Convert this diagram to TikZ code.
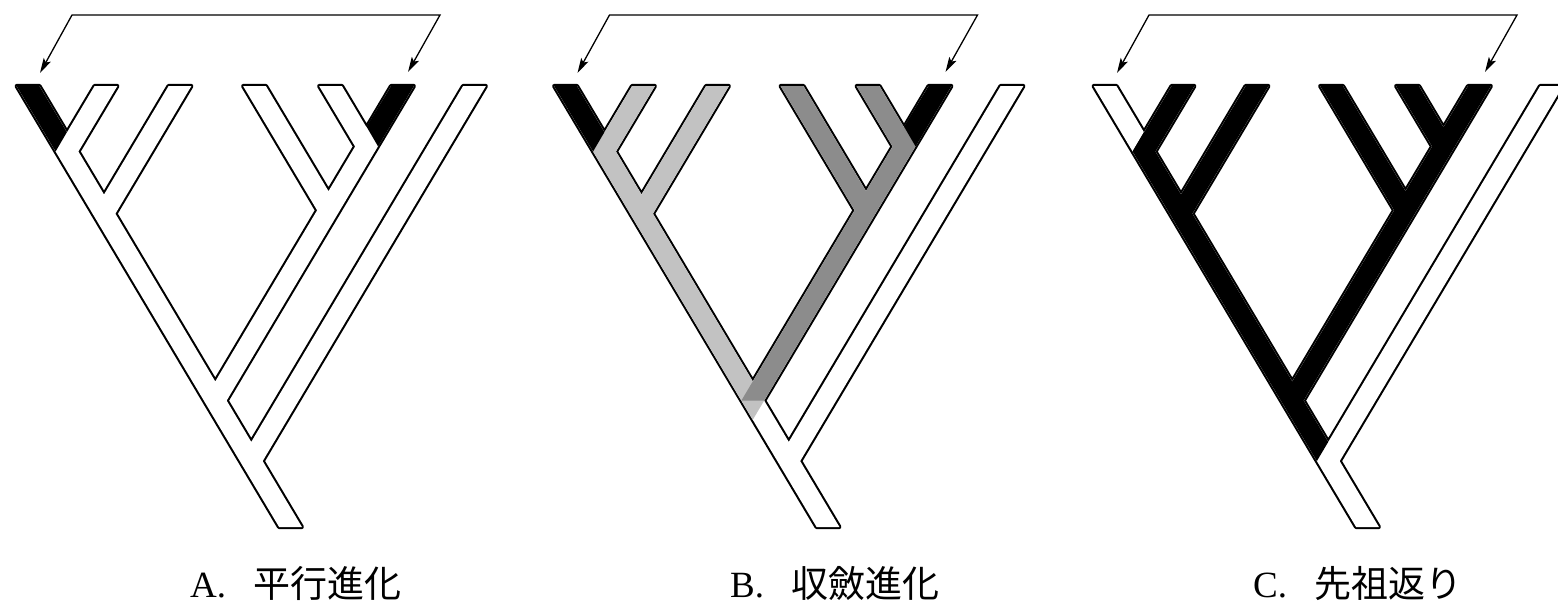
\documentclass[tikz,border=0pt]{standalone}
\usepackage{fontspec}
\setmainfont{Liberation Serif}
\newfontfamily\cjk{Noto Sans CJK JP}
\usetikzlibrary{arrows.meta}

% one branch: top centre x, bottom centre x, bottom y
\newcommand{\tbranch}[3]{(#1-11.4,86) -- (#1+11.4,86) -- (#2+11.4,#3) -- (#2-11.4,#3) -- cycle }
\newcommand{\wholetree}{\tbranch{28}{290.5}{527} \tbranch{106}{67}{151.5} \tbranch{180}{104}{213.7}
  \tbranch{402.5}{215.25}{400.6} \tbranch{330.5}{366.5}{146.5} \tbranch{254.5}{328.5}{210.3}
  \tbranch{474.5}{251.25}{461.1}}

\tikzset{
  outl/.style={draw=black, line width=4.2pt, line join=round},
  lgrey/.style={fill=black!24},
  dgrey/.style={fill=black!45},
  arr/.style={line width=1.3pt, line join=miter,
    arrows={Stealth[length=15pt,width=8pt,inset=3pt]-Stealth[length=15pt,width=8pt,inset=3pt]}},
  lbl/.style={anchor=base west, inner sep=0pt, font=\fontsize{37}{40}\selectfont}
}

\begin{document}
\begin{tikzpicture}[x=1pt, y=-1pt]
  \useasboundingbox (0,0) rectangle (1558,602);

  % trees and arrows, same in all three panels
  \foreach \dx/\p in {0/A, 537.5/B, 1077/C} {
    \begin{scope}[shift={(\dx,0)}]
      \draw[outl] \wholetree;
      \fill[white] \wholetree;
      \coordinate (tipL\p) at (40,73);
      \coordinate (cornL\p) at (72,15);
      \coordinate (cornR\p) at (440,15);
      \coordinate (tipR\p) at (408,72);
      \draw[arr] (tipR\p) -- (cornR\p) -- (cornL\p) -- (tipL\p);
    \end{scope}
  }

  % A: black tips
  \fill[black] (16.6,86) -- (39.4,86) -- (66.9,132.2) -- (55.6,151.5) -- cycle;
  \fill[black] (391.1,86) -- (413.9,86) -- (378.1,146.5) -- (366.5,126.6) -- cycle;

  % B: two grey clades
  \begin{scope}[shift={(537.5,0)}]
    \fill[lgrey] (55.6,151.5) -- (66.9,132.2) -- (226.65,400.6) -- (215.25,419.8) -- cycle;
    \fill[lgrey] \tbranch{106}{67}{151.5};
    \fill[lgrey] \tbranch{180}{104}{213.7};
    \fill[dgrey] \tbranch{402.5}{215.25}{400.6} \tbranch{330.5}{366.5}{146.5} \tbranch{254.5}{328.5}{210.3};
    \fill[black] (16.6,86) -- (39.4,86) -- (66.9,132.2) -- (55.6,151.5) -- cycle;
    \fill[black] (391.1,86) -- (413.9,86) -- (378.1,146.5) -- (366.5,126.6) -- cycle;
  \end{scope}

  % C: black clade
  \begin{scope}[shift={(1077,0)}]
    \fill[black] (55.6,151.5) -- (66.9,132.2) -- (251.25,441.9) -- (239.85,461.1) -- cycle;
    \fill[black] \tbranch{106}{67}{151.5} \tbranch{180}{104}{213.7};
    \fill[black] \tbranch{402.5}{215.25}{400.6} \tbranch{330.5}{366.5}{146.5} \tbranch{254.5}{328.5}{210.3};
  \end{scope}

  % labels
  \node[lbl] (labA) at (190,597) {A.\hspace{0.75em}{\cjk 平行進化}};
  \node[lbl] (labB) at (730,597) {B.\hspace{0.75em}{\cjk 収斂進化}};
  \node[lbl] (labC) at (1253,597) {C.\hspace{0.75em}{\cjk 先祖返り}};
\end{tikzpicture}
\end{document}
